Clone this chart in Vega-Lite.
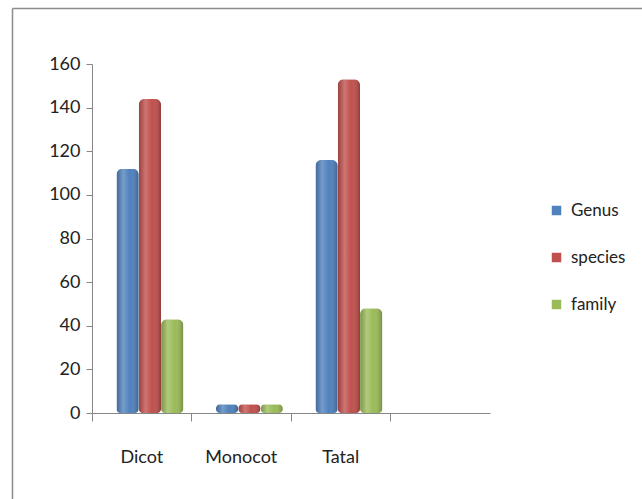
{
  "$schema": "https://vega.github.io/schema/vega-lite/v6.json",
  "width": 630,
  "height": 491,
  "autosize": {"type": "none"},
  "padding": {"left": 12, "top": 8, "right": 0, "bottom": 0},
  "background": "white",
  "config": {
    "view": {"stroke": null},
    "font": "Lato"
  },
  "data": {
    "values": [
      {"group": "Dicot", "series": "Genus", "value": 112},
      {"group": "Dicot", "series": "species", "value": 144},
      {"group": "Dicot", "series": "family", "value": 43},
      {"group": "Monocot", "series": "Genus", "value": 4},
      {"group": "Monocot", "series": "species", "value": 4},
      {"group": "Monocot", "series": "family", "value": 4},
      {"group": "Tatal", "series": "Genus", "value": 116},
      {"group": "Tatal", "series": "species", "value": 153},
      {"group": "Tatal", "series": "family", "value": 48}
    ]
  },
  "resolve": {"scale": {"x": "independent", "y": "independent"}, "axis": {"x": "independent", "y": "independent"}},
  "layer": [
    {
      "mark": {"type": "point", "opacity": 0},
      "encoding": {
        "x": {
          "field": "value", "type": "quantitative",
          "scale": {"domain": [0, 1]},
          "axis": {"orient": "top", "offset": 0, "title": null, "labels": false, "ticks": false, "grid": false, "domainColor": "#8c8c8c", "domainWidth": 1.5}
        },
        "y": {
          "field": "value", "type": "quantitative",
          "scale": {"domain": [0, 1]},
          "axis": {"orient": "left", "offset": 0, "title": null, "labels": false, "ticks": false, "grid": false, "domainColor": "#8c8c8c", "domainWidth": 1.5}
        }
      }
    },
    {
      "mark": {"type": "bar", "cornerRadiusTopLeft": 6, "cornerRadiusTopRight": 6, "cornerRadiusBottomLeft": 4, "cornerRadiusBottomRight": 4},
      "encoding": {
        "x": {
          "field": "group", "type": "nominal", "sort": null,
          "scale": {"domain": ["Dicot", "Monocot", "Tatal", ""], "range": [80, 478], "paddingInner": 0, "paddingOuter": 0},
          "axis": {"orient": "bottom", "title": null, "labels": false, "bandPosition": 0, "tickSize": 8, "domainColor": "#868686", "tickColor": "#868686", "offset": -86}
        },
        "xOffset": {
          "field": "series", "type": "nominal", "sort": ["Genus", "species", "family"],
          "scale": {"paddingInner": 0, "paddingOuter": 0.73, "align": 0.75}
        },
        "y": {
          "field": "value", "type": "quantitative",
          "scale": {"domain": [0, 160], "range": [405, 56]},
          "axis": {"orient": "left", "title": null, "values": [0, 20, 40, 60, 80, 100, 120, 140, 160], "grid": false, "tickSize": 6, "labelFontSize": 18, "labelPadding": 6, "labelColor": "#222222", "domainColor": "#868686", "tickColor": "#868686", "offset": -80}
        },
        "color": {
          "field": "series", "type": "nominal",
          "scale": {"domain": ["Genus", "species", "family"], "range": ["#4F81BD", "#C0504D", "#9BBB59"]},
          "legend": {"title": null, "orient": "none", "legendX": 536, "legendY": 194, "symbolType": "square", "symbolSize": 90, "symbolStrokeWidth": 0, "labelFontSize": 17, "labelColor": "#222222", "rowPadding": 29, "labelOffset": 6}
        }
      }
    },
    {
      "mark": {
        "type": "bar", "cornerRadiusTopLeft": 6, "cornerRadiusTopRight": 6, "cornerRadiusBottomLeft": 4, "cornerRadiusBottomRight": 4,
        "fill": {
          "gradient": "linear", "x1": 0, "y1": 0, "x2": 1, "y2": 0,
          "stops": [
            {"offset": 0, "color": "rgba(0,0,0,0.18)"},
            {"offset": 0.3, "color": "rgba(255,255,255,0.22)"},
            {"offset": 0.6, "color": "rgba(255,255,255,0.0)"},
            {"offset": 1, "color": "rgba(0,0,0,0.25)"}
          ]
        }
      },
      "encoding": {
        "x": {
          "field": "group", "type": "nominal", "sort": null,
          "scale": {"domain": ["Dicot", "Monocot", "Tatal", ""], "range": [80, 478], "paddingInner": 0, "paddingOuter": 0},
          "axis": {"orient": "bottom", "title": null, "domain": false, "ticks": false, "tickSize": 0, "labelPadding": 35, "labelFontSize": 18, "labelColor": "#222222", "labelAngle": 0, "offset": -86}
        },
        "xOffset": {
          "field": "series", "type": "nominal", "sort": ["Genus", "species", "family"],
          "scale": {"paddingInner": 0, "paddingOuter": 0.73, "align": 0.75}
        },
        "y": {
          "field": "value", "type": "quantitative",
          "scale": {"domain": [0, 160], "range": [405, 56]},
          "axis": null
        }
      }
    }
  ]
}
